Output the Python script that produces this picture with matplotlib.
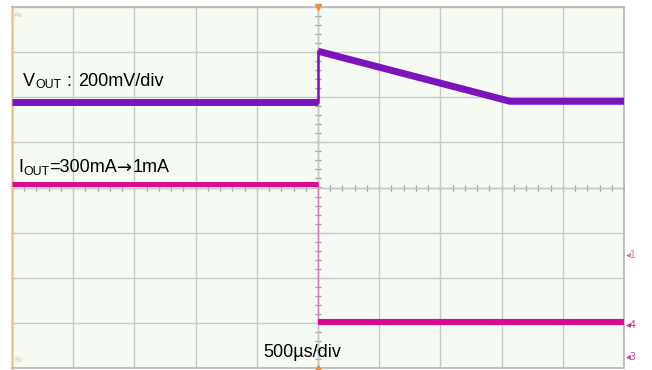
import numpy as np
import matplotlib.pyplot as plt

# Oscilloscope capture: load transient (time in us, amplitude in divisions)

vout_t = [-2500, 0, 0, 1570, 2500]
vout_v = [1.90, 1.90, 3.02, 1.91, 1.91]

iout_t = [-2500, 0, 0, 2500]
iout_v = [0.08, 0.08, -2.98, -2.98]

x_divs = np.arange(-2500, 2501, 500)
y_divs = np.arange(-4, 5, 1)

vout_color = '#7b14bd'
iout_color = '#dc0a90'
grid_color = '#c6cac6'

plt.rcParams['font.family'] = ['Liberation Sans', 'DejaVu Sans']

fig = plt.figure(figsize=(6.52, 3.70), dpi=100)
ax = fig.add_axes([12 / 652, 2 / 370, 612 / 652, 361 / 370])
ax.set_facecolor('#f5faf3')
ax.set_xlim(-2500, 2500)
ax.set_ylim(-4, 4)

# graticule
ax.set_xticks(x_divs)
ax.set_yticks(y_divs)
ax.tick_params(length=0, labelbottom=False, labelleft=False)
ax.grid(True, color=grid_color, linewidth=1)
for side in ['top', 'right', 'bottom']:
    ax.spines[side].set_color('#b4b8b4')
    ax.spines[side].set_linewidth(1.2)
ax.spines['left'].set_color('#f2c288')
ax.spines['left'].set_linewidth(1.8)

# centre cross with sub-division ticks
ax.axvline(0, color='#a6aaa6', linewidth=1, zorder=1)
ax.axhline(0, color='#b8bcb8', linewidth=1, zorder=1)
sub_x = np.arange(-2500, 2501, 100)
sub_y = np.arange(-4, 4.01, 0.2)
ax.plot(sub_x, np.zeros_like(sub_x), ls='none', marker='|', ms=4, mew=0.9, color='#9a9e9a', zorder=1)
ax.plot(np.zeros_like(sub_y), sub_y, ls='none', marker='_', ms=4, mew=0.9, color='#9a9e9a', zorder=1)

# traces: thick flat/slope parts, thin edges
ax.plot(vout_t[:2], vout_v[:2], color=vout_color, linewidth=5.0, solid_capstyle='butt', zorder=3)
ax.plot(vout_t[1:3], vout_v[1:3], color=vout_color, linewidth=1.8, zorder=3)
ax.plot(vout_t[2:], vout_v[2:], color=vout_color, linewidth=5.0, solid_capstyle='butt', zorder=3)

ax.plot(iout_t[:2], iout_v[:2], color=iout_color, linewidth=3.6, solid_capstyle='butt', zorder=3)
ax.plot(iout_t[1:3], iout_v[1:3], color=iout_color, linewidth=0.8, alpha=0.4, zorder=3)
ax.plot(iout_t[2:], iout_v[2:], color=iout_color, linewidth=4.4, solid_capstyle='butt', zorder=3)

# trigger markers top and bottom
trans = ax.get_xaxis_transform()
ax.plot([0], [1.0], marker='v', ms=5, color='#f08a3c', transform=trans, clip_on=False, zorder=5)
ax.plot([0], [0.0], marker='^', ms=5, color='#f08a3c', transform=trans, clip_on=False, zorder=5)

# channel markers on the right edge
ytrans = ax.get_yaxis_transform()
for lvl, lab, col in [(-1.5, '1', '#e86ab0'), (-3.05, '4', '#d0308c'), (-3.76, '3', '#c8409c')]:
    ax.text(1.003, lvl, '\u25c2' + lab, transform=ytrans, fontsize=7, color=col,
            va='center', ha='left', family=['DejaVu Sans'], clip_on=False)

# faint corner labels
ax.text(0.004, 0.985, 'Ax', transform=ax.transAxes, fontsize=5.5, color='#efc890', va='top', ha='left')
ax.text(0.004, 0.01, 'Bx', transform=ax.transAxes, fontsize=5.5, color='#efc890', va='bottom', ha='left')

# annotations with small-caps subscripts
fs_big = 13
fs_small = 8.8

t1 = ax.text(-2410, 2.25, 'V', fontsize=fs_big, va='baseline', ha='left', zorder=6)
t2 = ax.annotate('OUT', xy=(1, 0), xycoords=t1, xytext=(0.4, -1), textcoords='offset points',
                 fontsize=fs_small, va='bottom', ha='left', zorder=6)
t3 = ax.annotate(' : ', xy=(1, 0), xycoords=(t2, t1), fontsize=fs_big,
                 va='bottom', ha='left', zorder=6)
ax.annotate('200mV/div', xy=(1, 0), xycoords=(t3, t1), xytext=(1.5, 0), textcoords='offset points',
            fontsize=fs_big, va='bottom', ha='left', zorder=6)

t4 = ax.text(-2451, 0.34, 'I', fontsize=fs_big, va='baseline', ha='left', zorder=6)
t5 = ax.annotate('OUT', xy=(1, 0), xycoords=t4, xytext=(0.4, -1), textcoords='offset points',
                 fontsize=fs_small, va='bottom', ha='left', zorder=6)
t6 = ax.annotate('=300mA', xy=(1, 0), xycoords=(t5, t4), fontsize=fs_big,
                 va='bottom', ha='left', zorder=6)
t7 = ax.annotate('\u2192', xy=(1, 0), xycoords=(t6, t4), fontsize=13, family=['DejaVu Sans'],
                 xytext=(0, -0.6), textcoords='offset points', va='bottom', ha='left', zorder=6)
ax.annotate('1mA', xy=(1, 0), xycoords=(t7, t4), fontsize=fs_big,
            va='bottom', ha='left', zorder=6)

ax.text(-449, -3.76, '500\u00b5s/div', fontsize=fs_big, va='baseline', ha='left', zorder=6)

fig.savefig('out.png', dpi=100, facecolor='white')
